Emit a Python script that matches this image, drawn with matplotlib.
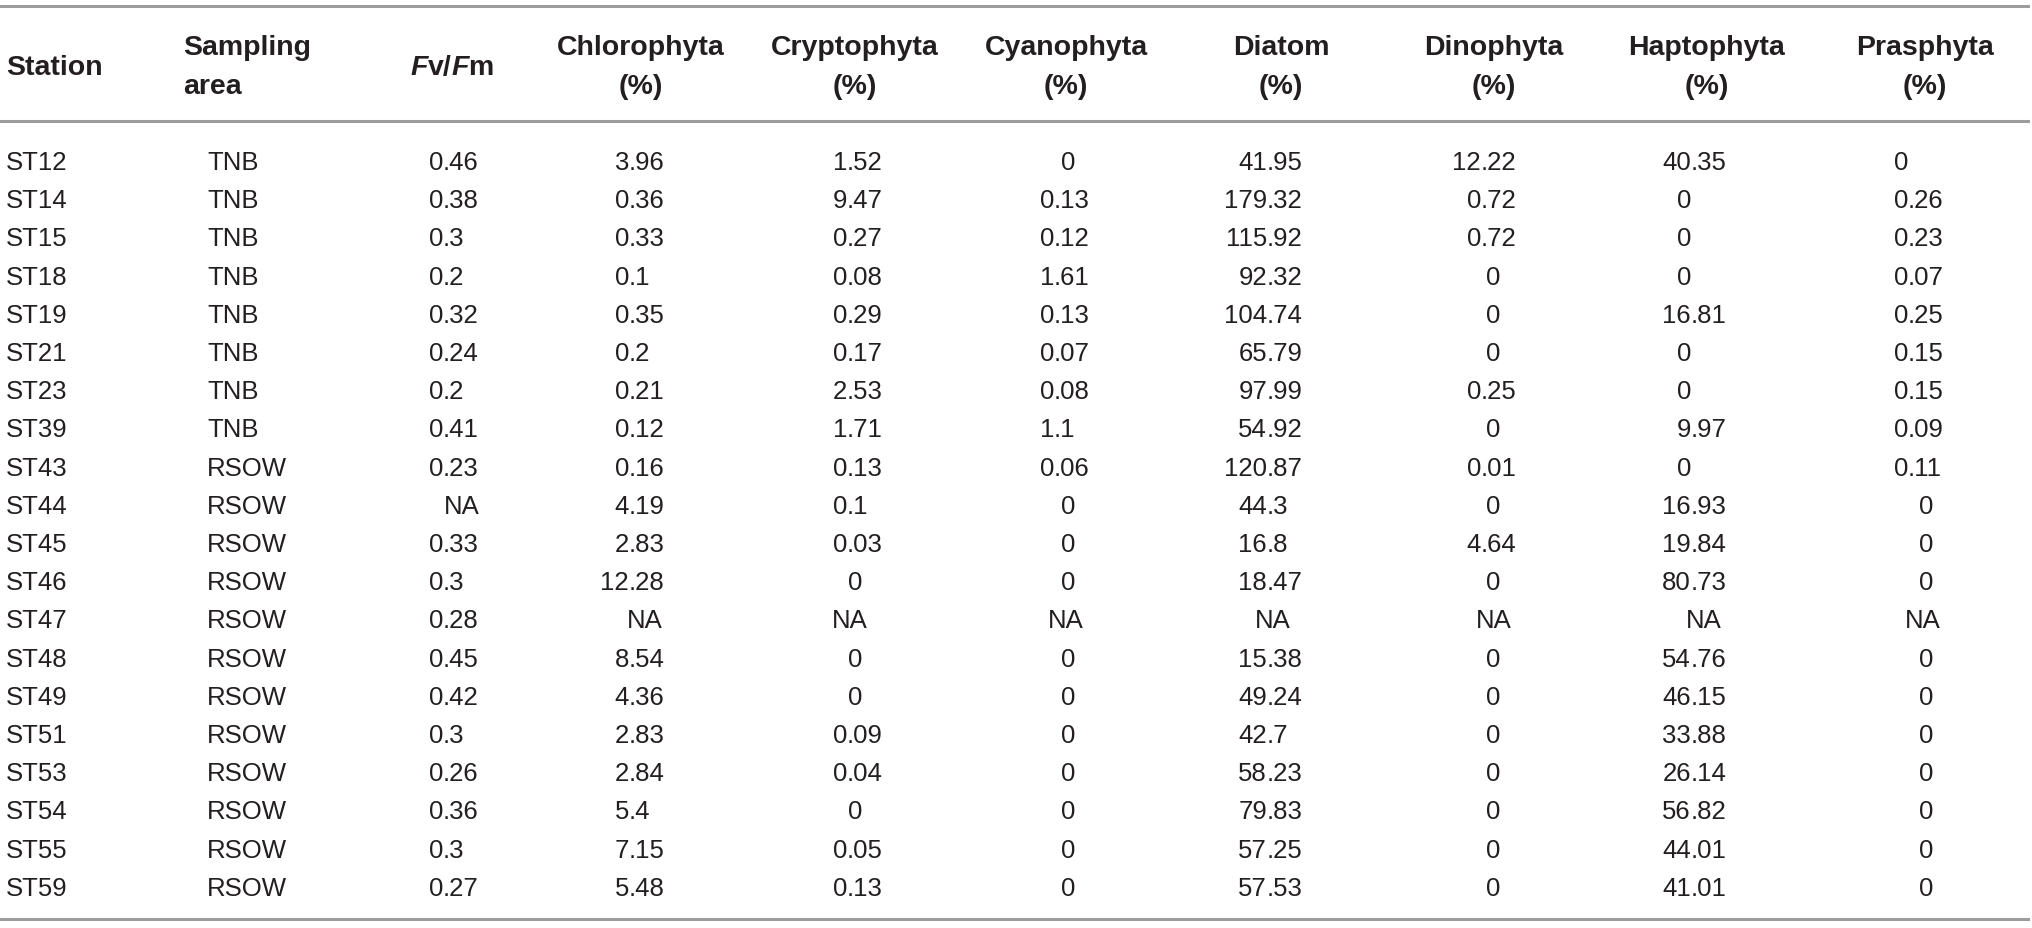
import numpy as np
import matplotlib
matplotlib.use("Agg")
import matplotlib.pyplot as plt

NA = np.nan

stations = ["ST12", "ST14", "ST15", "ST18", "ST19", "ST21", "ST23", "ST39", "ST43", "ST44",
            "ST45", "ST46", "ST47", "ST48", "ST49", "ST51", "ST53", "ST54", "ST55", "ST59"]
areas = ["TNB"] * 8 + ["RSOW"] * 12
fvfm = [0.46, 0.38, 0.3, 0.2, 0.32, 0.24, 0.2, 0.41, 0.23, NA,
        0.33, 0.3, 0.28, 0.45, 0.42, 0.3, 0.26, 0.36, 0.3, 0.27]
chlorophyta = [3.96, 0.36, 0.33, 0.1, 0.35, 0.2, 0.21, 0.12, 0.16, 4.19,
               2.83, 12.28, NA, 8.54, 4.36, 2.83, 2.84, 5.4, 7.15, 5.48]
cryptophyta = [1.52, 9.47, 0.27, 0.08, 0.29, 0.17, 2.53, 1.71, 0.13, 0.1,
               0.03, 0, NA, 0, 0, 0.09, 0.04, 0, 0.05, 0.13]
cyanophyta = [0, 0.13, 0.12, 1.61, 0.13, 0.07, 0.08, 1.1, 0.06, 0,
              0, 0, NA, 0, 0, 0, 0, 0, 0, 0]
diatom = [41.95, 179.32, 115.92, 92.32, 104.74, 65.79, 97.99, 54.92, 120.87, 44.3,
          16.8, 18.47, NA, 15.38, 49.24, 42.7, 58.23, 79.83, 57.25, 57.53]
dinophyta = [12.22, 0.72, 0.72, 0, 0, 0, 0.25, 0, 0.01, 0,
             4.64, 0, NA, 0, 0, 0, 0, 0, 0, 0]
haptophyta = [40.35, 0, 0, 0, 16.81, 0, 0, 9.97, 0, 16.93,
              19.84, 80.73, NA, 54.76, 46.15, 33.88, 26.14, 56.82, 44.01, 41.01]
prasphyta = [0, 0.26, 0.23, 0.07, 0.25, 0.15, 0.15, 0.09, 0.11, 0,
             0, 0, NA, 0, 0, 0, 0, 0, 0, 0]

# column layout: values, header lines, header centre, decimal anchor, zero x (None = on anchor), NA x
cols = [
    (fvfm, None, 452, 443, None, 462),
    (chlorophyta, ["Chlorophyta", "(%)"], 641, 629, None, 645),
    (cryptophyta, ["Cryptophyta", "(%)"], 855, 847, 855, 850),
    (cyanophyta, ["Cyanophyta", "(%)"], 1066, 1054, 1068, 1066),
    (diatom, ["Diatom", "(%)"], 1281, 1267, None, 1273),
    (dinophyta, ["Dinophyta", "(%)"], 1494, 1481, 1493, 1494),
    (haptophyta, ["Haptophyta", "(%)"], 1707, 1691, None, 1704),
    (prasphyta, ["Prasphyta", "(%)"], 1925, 1908, 1926, 1923),
]
zero_on_anchor = {(0, 7)}   # ST12 Prasphyta zero sits on the decimal point

W, H = 2032, 929
fig = plt.figure(figsize=(W / 100, H / 100), dpi=100)
ax = fig.add_axes([0, 0, 1, 1])
ax.set_xlim(0, W)
ax.set_ylim(H, 0)
ax.axis("off")

body = dict(fontsize=18.5, family="Liberation Sans", color="#231f20", va="center")
head = dict(fontsize=20.5, family="Liberation Sans", fontweight="bold", color="#231f20", va="center")

line_kw = dict(color="#9d9d9d", lw=2.2)
for y in (7, 122, 920):
    ax.plot([0, 2028], [y, y], **line_kw)

# header
y1, y2, ymid = 48, 87, 68
ax.text(6, ymid, "Station", ha="left", **head)
ax.text(183, y1, "Sampling", ha="left", **head)
ax.text(183, y2, "area", ha="left", **head)

fig.canvas.draw()
renderer = fig.canvas.get_renderer()
runs = [("F", "italic"), ("v/", "normal"), ("F", "italic"), ("m", "normal")]
pieces = []
total = 0
for s, st in runs:
    t = ax.text(0, ymid, s, ha="left", fontstyle=st, **head)
    w = t.get_window_extent(renderer).width
    pieces.append((t, w))
    total += w
x = cols[0][2] - total / 2
for t, w in pieces:
    t.set_x(x)
    x += w

for vals, hdr, hx, anchor, zx, nax in cols[1:]:
    ax.text(hx, y1, hdr[0], ha="center", **head)
    ax.text(hx, y2, hdr[1], ha="center", **head)

# body rows
y0, dy = 163, 38.2
for i in range(len(stations)):
    y = y0 + i * dy
    ax.text(6, y, stations[i], ha="left", **body)
    ax.text(207, y, areas[i], ha="left", **body)
    for j, (vals, hdr, hx, anchor, zx, nax) in enumerate(cols):
        v = vals[i]
        if np.isnan(v):
            ax.text(nax, y, "NA", ha="center", **body)
            continue
        s = "{:g}".format(v)
        if s == "0" and zx is not None and (i, j) not in zero_on_anchor:
            ax.text(zx, y, s, ha="center", **body)
            continue
        if "." in s:
            ip, fp = s.split(".")
            ax.text(anchor, y, ip, ha="right", **body)
            ax.text(anchor, y, "." + fp, ha="left", **body)
        else:
            ax.text(anchor, y, s, ha="right", **body)

fig.savefig("out.png", dpi=100, facecolor="white")
